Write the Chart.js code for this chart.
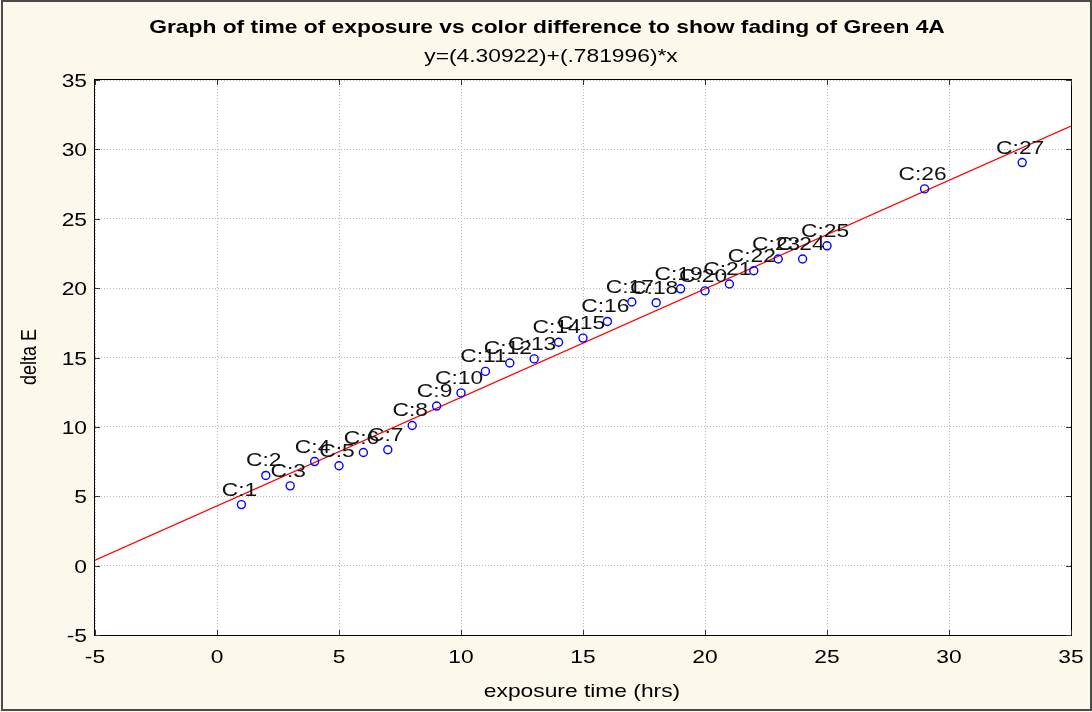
<!DOCTYPE html>
<html>
<head>
<meta charset="utf-8">
<title>Fading of Green 4A</title>
<script src="https://cdn.jsdelivr.net/npm/chart.js@4.4.1/dist/chart.umd.min.js"></script>
<style>
  html, body { margin: 0; padding: 0; background: #fdf8ec; }
  #wrap { width: 1092px; height: 712px; }
</style>
</head>
<body>
<div id="wrap"><canvas id="fadeChart" width="1092" height="712"></canvas></div>
<script>
// exposure time (hrs) and measured colour difference for each case
const hours = [1, 2, 3, 4, 5, 6, 7, 8, 9, 10, 11, 12, 13, 14, 15, 16, 17, 18, 19, 20, 21, 22, 23, 24, 25, 29, 33];
const deltaE = [4.4, 6.5, 5.75, 7.5, 7.2, 8.15, 8.35, 10.1, 11.5, 12.45, 14.0, 14.6, 14.9, 16.1, 16.4, 17.6,
  19.0, 18.95, 19.95, 19.8, 20.3, 21.25, 22.1, 22.1, 23.05, 27.15, 29.05];
const caseLabels = ['C:1', 'C:2', 'C:3', 'C:4', 'C:5', 'C:6', 'C:7', 'C:8', 'C:9', 'C:10', 'C:11', 'C:12', 'C:13',
  'C:14', 'C:15', 'C:16', 'C:17', 'C:18', 'C:19', 'C:20', 'C:21', 'C:22', 'C:23', 'C:24', 'C:25', 'C:26', 'C:27'];

// regression line y = a + b*x
const fitIntercept = 4.30922;
const fitSlope = 0.781996;
const fitRange = [-5, 35];

const xTicks = [-5, 0, 5, 10, 15, 20, 25, 30, 35];
const yTicks = [-5, 0, 5, 10, 15, 20, 25, 30, 35];

const titleText = 'Graph of time of exposure vs color difference to show fading of Green 4A';
const subtitleText = 'y=(4.30922)+(.781996)*x';
const xTitle = 'exposure time (hrs)';
const yTitle = 'delta E';

const FONT = '"Liberation Sans", Arial, sans-serif';
const STRETCH = 1.2; // text is drawn a little wide

function wideText(ctx, text, x, y, align, font) {
  ctx.save();
  ctx.font = font;
  ctx.textAlign = align;
  ctx.textBaseline = 'alphabetic';
  ctx.translate(x, y);
  ctx.scale(STRETCH, 1);
  ctx.fillText(text, 0, 0);
  ctx.restore();
}

// white plot, frame, inner ticks and all the text
const decor = {
  id: 'decor',
  beforeDraw(chart) {
    const { ctx, chartArea: a } = chart;
    ctx.save();
    ctx.fillStyle = '#fdf8ec';
    ctx.fillRect(0, 0, chart.width, chart.height);
    ctx.fillStyle = '#ffffff';
    ctx.fillRect(a.left, a.top, a.right - a.left, a.bottom - a.top);
    ctx.restore();
  },
  afterDatasetsDraw(chart) {
    const { ctx, chartArea: a, scales: { x, y } } = chart;
    ctx.save();

    // point labels
    ctx.fillStyle = '#111';
    const pts = chart.getDatasetMeta(0).data;
    pts.forEach((p, i) => {
      wideText(ctx, caseLabels[i], p.x - 2, p.y - 9, 'center', '19px ' + FONT);
    });

    // frame
    ctx.strokeStyle = '#000';
    ctx.lineWidth = 1;
    ctx.strokeRect(Math.round(a.left) - 0.5, Math.round(a.top) - 0.5,
      Math.round(a.right - a.left) + 1, Math.round(a.bottom - a.top) + 1);

    // tick marks pointing into the plot
    ctx.strokeStyle = '#333';
    ctx.beginPath();
    xTicks.forEach(v => {
      const px = Math.round(x.getPixelForValue(v)) + 0.5;
      ctx.moveTo(px, a.bottom); ctx.lineTo(px, a.bottom - 5);
      ctx.moveTo(px, a.top); ctx.lineTo(px, a.top + 5);
    });
    yTicks.forEach(v => {
      const py = Math.round(y.getPixelForValue(v)) + 0.5;
      ctx.moveTo(a.left, py); ctx.lineTo(a.left + 5, py);
      ctx.moveTo(a.right, py); ctx.lineTo(a.right - 5, py);
    });
    ctx.stroke();

    // tick labels
    ctx.fillStyle = '#000';
    xTicks.forEach(v => {
      wideText(ctx, String(v), x.getPixelForValue(v), a.bottom + 28, 'center', '19px ' + FONT);
    });
    yTicks.forEach(v => {
      wideText(ctx, String(v), a.left - 8, y.getPixelForValue(v) + 7, 'right', '19px ' + FONT);
    });

    // titles
    wideText(ctx, titleText, 547, 33, 'center', 'bold 19px ' + FONT);
    wideText(ctx, subtitleText, 551, 62, 'center', '19px ' + FONT);
    wideText(ctx, xTitle, 582, 697, 'center', '19px ' + FONT);

    ctx.save();
    ctx.font = '18px ' + FONT;
    ctx.textAlign = 'center';
    ctx.translate(36, 357);
    ctx.scale(STRETCH, 1);
    ctx.rotate(-Math.PI / 2);
    ctx.fillText(yTitle, 0, 0);
    ctx.restore();

    // outer window border
    ctx.strokeStyle = '#4a4a4a';
    ctx.lineWidth = 2;
    ctx.strokeRect(2, 1, chart.width - 3, chart.height - 3);
    ctx.restore();
  }
};

const caseData = hours.map((h, i) => ({ x: h, y: deltaE[i] }));
const fitData = fitRange.map(v => ({ x: v, y: fitIntercept + fitSlope * v }));

new Chart(document.getElementById('fadeChart'), {
  type: 'scatter',
  data: {
    datasets: [
      {
        label: 'cases',
        data: caseData,
        pointStyle: 'circle',
        pointRadius: 4,
        pointBorderWidth: 1.4,
        pointBorderColor: '#0000ff',
        pointBackgroundColor: 'rgba(255,255,255,0)',
        order: 1
      },
      {
        label: 'fit',
        type: 'line',
        data: fitData,
        borderColor: '#ff0000',
        borderWidth: 1.2,
        pointRadius: 0,
        fill: false,
        order: 2
      }
    ]
  },
  options: {
    responsive: false,
    animation: false,
    devicePixelRatio: 1,
    layout: { padding: { top: 80, right: 21, left: 0, bottom: 0 } },
    plugins: { legend: { display: false }, tooltip: { enabled: false }, title: { display: false } },
    scales: {
      x: {
        type: 'linear', min: -5, max: 35,
        ticks: { stepSize: 5, display: false },
        grid: { color: '#b8b8b8', lineWidth: 1, drawTicks: false },
        border: { display: false, dash: [1, 2] },
        afterFit(s) { s.height = 77; }
      },
      y: {
        type: 'linear', min: -5, max: 35,
        ticks: { stepSize: 5, display: false },
        grid: { color: '#b8b8b8', lineWidth: 1, drawTicks: false },
        border: { display: false, dash: [1, 2] },
        afterFit(s) { s.width = 95; }
      }
    }
  },
  plugins: [decor]
});
</script>
</body>
</html>
